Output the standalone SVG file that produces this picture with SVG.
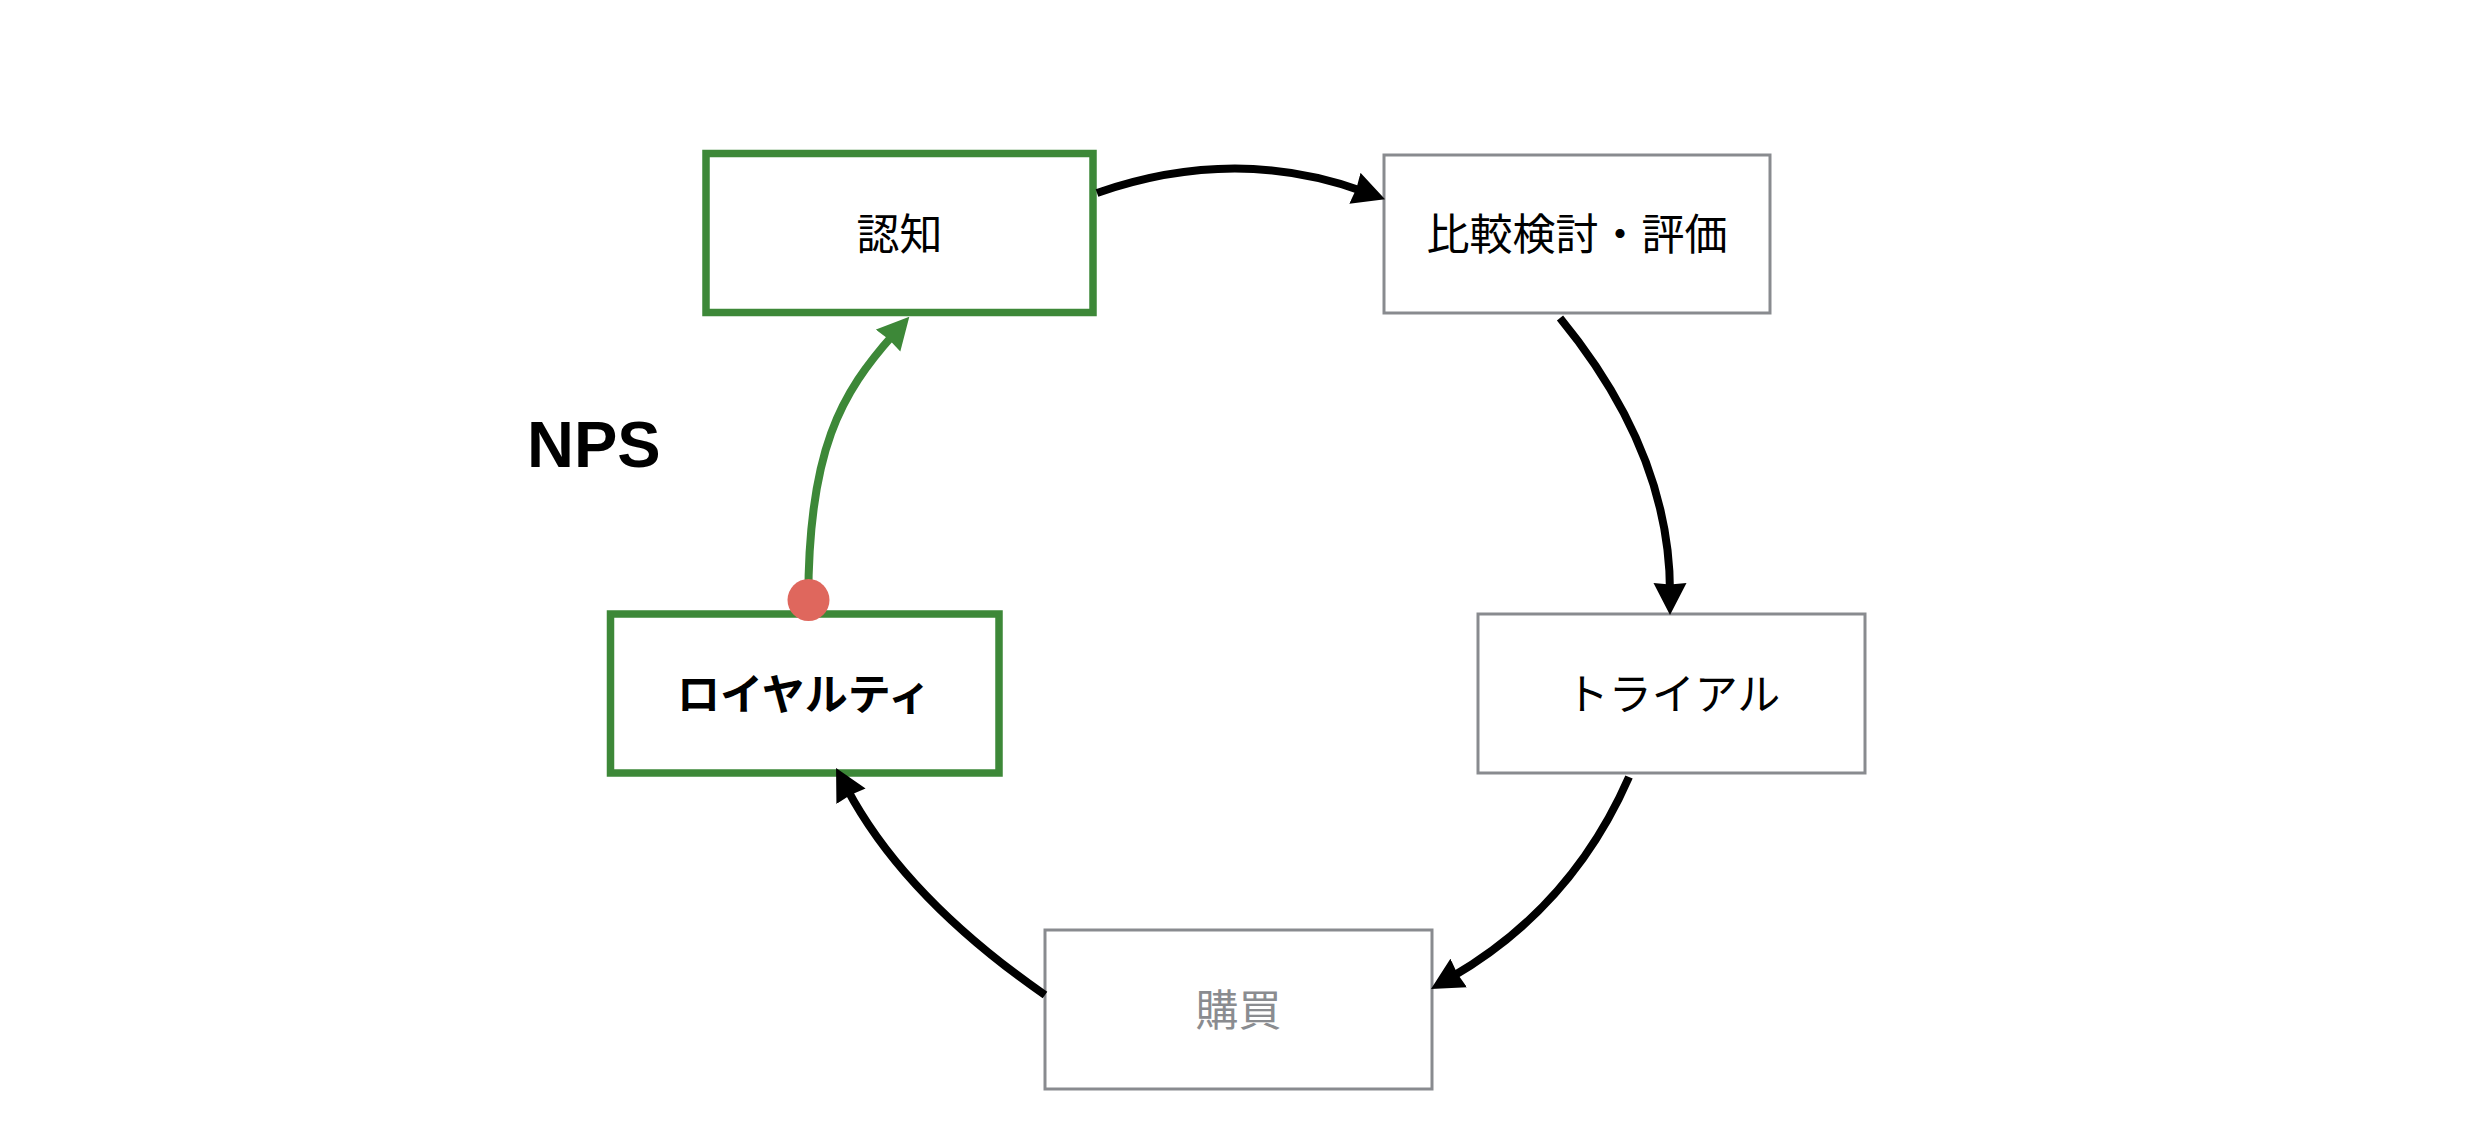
<svg xmlns="http://www.w3.org/2000/svg" width="2474" height="1148" viewBox="0 0 2474 1148">
  <defs>
    <style>
      .box { fill: #ffffff; }
      .green { stroke: #3d8838; stroke-width: 7.5; }
      .gray { stroke: #898b8f; stroke-width: 3; }
      .lbl { font-family: "Noto Sans CJK JP", "Noto Sans", sans-serif; font-size: 43px; text-anchor: middle; fill: #000000; }
      .lbl-gray { fill: #8a8c90; }
      .lbl-bold { font-weight: bold; }
      .conn { fill: none; stroke: #000000; stroke-width: 8; }
      .conn-green { fill: none; stroke: #3d8838; stroke-width: 8; }
      .title { font-family: "Liberation Sans", Arial, sans-serif; font-size: 65px; font-weight: bold; fill: #000000; }
    </style>
    <marker id="arrow" markerUnits="userSpaceOnUse" viewBox="0 0 32 34" markerWidth="32" markerHeight="34" refX="9" refY="17" orient="auto">
      <path d="M32,17 L0,0.5 L1.5,17 L0,33.5 Z" fill="#000000"/>
    </marker>
    <marker id="arrow-green" markerUnits="userSpaceOnUse" viewBox="0 0 32 34" markerWidth="32" markerHeight="34" refX="9" refY="17" orient="auto">
      <path d="M32,17 L0,0.5 L1.5,17 L0,33.5 Z" fill="#3d8838"/>
    </marker>
  </defs>

  <rect x="0" y="0" width="2474" height="1148" fill="#ffffff"/>

  <g id="node-ninchi">
    <rect class="box green" x="706" y="153.5" width="387" height="159"/>
    <text class="lbl" x="899.5" y="250">認知</text>
  </g>

  <g id="node-hikaku">
    <rect class="box gray" x="1384" y="155" width="386" height="158"/>
    <text class="lbl" x="1577" y="250">比較検討・評価</text>
  </g>

  <g id="node-trial">
    <rect class="box gray" x="1478" y="614" width="387" height="159"/>
    <text class="lbl" x="1673" y="710">トライアル</text>
  </g>

  <g id="node-kounyu">
    <rect class="box gray" x="1045" y="930" width="387" height="159"/>
    <text class="lbl lbl-gray" x="1238.5" y="1026">購買</text>
  </g>

  <g id="node-loyalty">
    <rect class="box green" x="610.5" y="614" width="388.5" height="159"/>
    <text class="lbl lbl-bold" x="804" y="710">ロイヤルティ</text>
  </g>

  <g id="label-nps">
    <text class="title" x="527" y="467">NPS</text>
  </g>

  <g id="connectors">
    <path class="conn" d="M1097,193 Q1235,145 1363.4,191.4" marker-end="url(#arrow)"/>
    <path class="conn" d="M1560,318 Q1670,452 1670,592" marker-end="url(#arrow)"/>
    <path class="conn" d="M1629,777 Q1572,907.5 1450.9,977.5" marker-end="url(#arrow)"/>
    <path class="conn" d="M1045,995 Q904.5,897.4 846.8,788.3" marker-end="url(#arrow)"/>
    <path class="conn-green" d="M808.3,600 C808.3,450 840.7,393.6 894,333.9" marker-end="url(#arrow-green)"/>
    <circle cx="808.5" cy="600" r="21" fill="#df675d"/>
  </g>
</svg>
